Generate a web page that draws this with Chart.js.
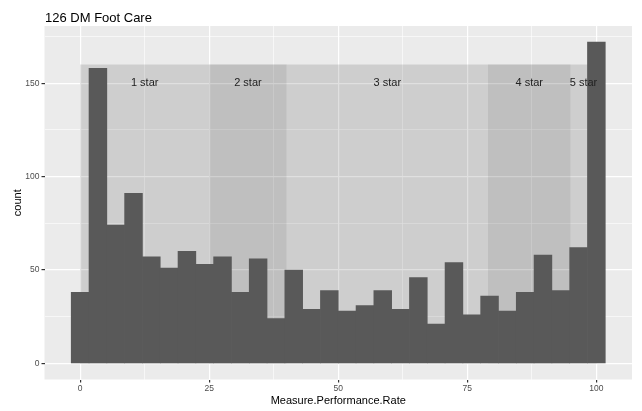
<!DOCTYPE html>
<html>
<head>
<meta charset="utf-8">
<script src="https://cdn.jsdelivr.net/npm/chart.js@4.4.1/dist/chart.umd.min.js"></script>
<style>
  html, body { margin: 0; padding: 0; background: #ffffff; }
  #wrap { width: 642px; height: 411px; position: relative; }
</style>
</head>
<body>
<div id="wrap"><canvas id="c" width="642" height="411"></canvas></div>
<script>
// ---- data ----
const chartTitle = "126 DM Foot Care";
const binCenters = [0, 3.448, 6.897, 10.345, 13.793, 17.241, 20.690, 24.138, 27.586, 31.034,
                    34.483, 37.931, 41.379, 44.828, 48.276, 51.724, 55.172, 58.621, 62.069, 65.517,
                    68.966, 72.414, 75.862, 79.310, 82.759, 86.207, 89.655, 93.103, 96.552, 100];
const counts = [38, 158, 74, 91, 57, 51, 60, 53, 57, 38,
                56, 24, 50, 29, 39, 28, 31, 39, 29, 46,
                21, 54, 26, 36, 28, 38, 58, 39, 62, 172];
const starLabels = ["1 star", "2 star", "3 star", "4 star", "5 star"];
const starStart = [0, 25, 40, 79, 95];
const starEnd = [25, 40, 79, 95, 100];
const starTop = 160;
const starLabelY = 150;
const xMajorTicks = [0, 25, 50, 75, 100];
const xMinorTicks = [12.5, 37.5, 62.5, 87.5];
const yMajorTicks = [0, 50, 100, 150];
const yMinorTicks = [25, 75, 125, 175];
const xTitle = "Measure.Performance.Rate";
const yTitle = "count";

// ---- styles ----
const FONT = "'Liberation Sans', Arial, sans-serif";
const PANEL_BG = "#ebebeb";
const BAR_COLOR = "#595959";
const RECT_FILLS = ["rgba(0,0,0,0.12)", "rgba(0,0,0,0.185)", "rgba(0,0,0,0.12)", "rgba(0,0,0,0.185)", "rgba(0,0,0,0.12)"];

const points = binCenters.map((x, i) => ({ x: x, y: counts[i] }));

const isMajor = (list, v) => list.some(m => Math.abs(m - v) < 1e-6);
const tickVal = ctx => (ctx && ctx.tick) ? ctx.tick.value : NaN;

const panelPlugin = {
  id: 'panel',
  beforeDraw(chart) {
    const { ctx, chartArea: a } = chart;
    ctx.save();
    ctx.fillStyle = PANEL_BG;
    ctx.fillRect(a.left, a.top, a.right - a.left, a.bottom - a.top);
    ctx.restore();
  },
  beforeDatasetsDraw(chart) {
    const { ctx, scales: { x, y } } = chart;
    ctx.save();
    for (let i = 0; i < starStart.length; i++) {
      const x0 = x.getPixelForValue(starStart[i]);
      const x1 = x.getPixelForValue(starEnd[i]);
      const y0 = y.getPixelForValue(starTop);
      const y1 = y.getPixelForValue(0);
      ctx.fillStyle = RECT_FILLS[i];
      ctx.fillRect(x0, y0, x1 - x0, y1 - y0);
    }
    ctx.restore();
  },
  afterDatasetsDraw(chart) {
    const { ctx, scales: { x, y } } = chart;
    ctx.save();
    ctx.font = "11px " + FONT;
    ctx.fillStyle = "#222222";
    ctx.textAlign = "center";
    ctx.textBaseline = "middle";
    for (let i = 0; i < starLabels.length; i++) {
      const cx = x.getPixelForValue((starStart[i] + starEnd[i]) / 2);
      ctx.fillText(starLabels[i], cx, y.getPixelForValue(starLabelY));
    }
    ctx.restore();
  },
  afterDraw(chart) {
    const { ctx, chartArea: a } = chart;
    ctx.save();
    ctx.font = "13px " + FONT;
    ctx.fillStyle = "#000000";
    ctx.textAlign = "left";
    ctx.textBaseline = "alphabetic";
    ctx.fillText(chartTitle, a.left + 0.5, 21.5);
    ctx.restore();
  }
};

new Chart(document.getElementById('c'), {
  type: 'bar',
  data: {
    datasets: [{
      data: points,
      backgroundColor: BAR_COLOR,
      borderWidth: 0,
      barPercentage: 1.0,
      categoryPercentage: 1.0,
      grouped: false
    }]
  },
  options: {
    responsive: false,
    animation: false,
    devicePixelRatio: 1,
    layout: { padding: { top: 26, right: 10, left: 0, bottom: 0 } },
    plugins: {
      legend: { display: false },
      tooltip: { enabled: false },
      title: { display: false }
    },
    scales: {
      x: {
        type: 'linear',
        offset: false,
        min: -6.9,
        max: 106.9,
        afterBuildTicks(scale) {
          scale.ticks = xMajorTicks.concat(xMinorTicks).sort((a, b) => a - b).map(v => ({ value: v }));
        },
        afterFit(scale) { scale.height = 31.5; },
        border: { display: false },
        grid: {
          offset: false,
          color: '#ffffff',
          lineWidth: ctx => isMajor(xMajorTicks, tickVal(ctx)) ? 1.2 : 0.6,
          tickColor: ctx => isMajor(xMajorTicks, tickVal(ctx)) ? '#333333' : 'rgba(0,0,0,0)',
          tickLength: 3,
          drawTicks: true
        },
        ticks: {
          autoSkip: false,
          maxRotation: 0,
          padding: 1,
          color: '#4d4d4d',
          font: { family: FONT, size: 8.5 },
          callback: v => isMajor(xMajorTicks, v) ? String(v) : ''
        },
        title: {
          display: true,
          text: xTitle,
          color: '#000000',
          font: { family: FONT, size: 11 },
          padding: { top: 0, bottom: 3.5 }
        }
      },
      y: {
        type: 'linear',
        min: -8.6,
        max: 180.6,
        afterBuildTicks(scale) {
          scale.ticks = yMajorTicks.concat(yMinorTicks).sort((a, b) => a - b).map(v => ({ value: v }));
        },
        afterFit(scale) { scale.width = 44.5; },
        border: { display: false },
        grid: {
          offset: false,
          color: '#ffffff',
          lineWidth: ctx => isMajor(yMajorTicks, tickVal(ctx)) ? 1.2 : 0.6,
          tickColor: ctx => isMajor(yMajorTicks, tickVal(ctx)) ? '#333333' : 'rgba(0,0,0,0)',
          tickLength: 3,
          drawTicks: true
        },
        ticks: {
          autoSkip: false,
          padding: 2,
          color: '#4d4d4d',
          font: { family: FONT, size: 8.5 },
          callback: v => isMajor(yMajorTicks, v) ? String(v) : ''
        },
        title: {
          display: true,
          text: yTitle,
          color: '#000000',
          font: { family: FONT, size: 11 },
          padding: { top: 11, bottom: 0 }
        }
      }
    }
  },
  plugins: [panelPlugin]
});
</script>
</body>
</html>
